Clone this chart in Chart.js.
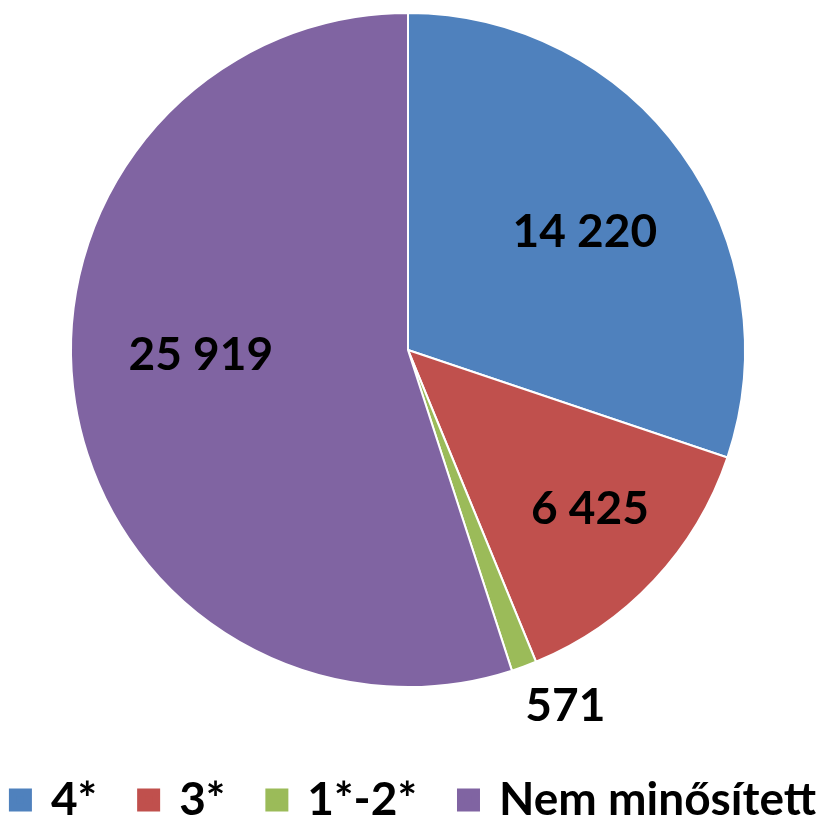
<!DOCTYPE html>
<html>
<head>
<meta charset="utf-8">
<script src="https://cdn.jsdelivr.net/npm/chart.js@4"></script>
<style>
  html, body { margin: 0; padding: 0; background: #ffffff; }
  #wrap { width: 824px; height: 816px; position: relative; }
</style>
</head>
<body>
<div id="wrap"><canvas id="c" width="824" height="816"></canvas></div>
<script>
const categories = ['4*', '3*', '1*-2*', 'Nem minősített'];
const values = [14220, 6425, 571, 25919];
const valueLabels = ['14 220', '6 425', '571', '25 919'];
const colors = ['#4F81BD', '#C0504D', '#9BBB59', '#8064A2'];

// label placement style (radius factor of outer radius, angle shift in degrees)
const labelPlacement = [
  { f: 0.630, d: 2.1 },
  { f: 0.718, d: -1.9 },
  { f: 1.155, d: -3.7 },
  { f: 0.615, d: 7.5 }
];

const FONT = 'Lato, "Open Sans", "DejaVu Sans", sans-serif';

const sliceLabels = {
  id: 'sliceLabels',
  afterLayout(chart) {
    // nudge the plot area slightly left, as in the original
    chart.chartArea.left -= 4;
    chart.chartArea.right -= 4;
  },
  afterDatasetsDraw(chart) {
    const ctx = chart.ctx;
    const meta = chart.getDatasetMeta(0);
    ctx.save();
    ctx.font = 'bold 46px ' + FONT;
    ctx.fillStyle = '#000000';
    ctx.textAlign = 'center';
    ctx.textBaseline = 'middle';
    meta.data.forEach((arc, i) => {
      const p = arc.getProps(['x', 'y', 'startAngle', 'endAngle', 'outerRadius'], true);
      const a = (p.startAngle + p.endAngle) / 2 + labelPlacement[i].d * Math.PI / 180;
      const r = p.outerRadius * labelPlacement[i].f;
      ctx.fillText(valueLabels[i], p.x + r * Math.cos(a), p.y + r * Math.sin(a));
    });
    ctx.restore();
  }
};

new Chart(document.getElementById('c'), {
  type: 'pie',
  data: {
    labels: categories,
    datasets: [{
      data: values,
      backgroundColor: colors,
      borderColor: '#ffffff',
      borderWidth: 2
    }]
  },
  options: {
    responsive: false,
    animation: false,
    radius: 337,
    layout: { padding: { top: 0, bottom: -17, left: -55, right: -60 } },
    plugins: {
      tooltip: { enabled: false },
      legend: {
        position: 'bottom',
        title: {
          display: true,
          text: ' ',
          font: { size: 10, lineHeight: 1 },
          padding: { top: 23, bottom: 0 }
        },
        labels: {
          font: { family: FONT, size: 46, weight: 'bold' },
          color: '#000000',
          boxWidth: 15,
          boxHeight: 15,
          padding: 44,
          generateLabels(chart) {
            return categories.map((c, i) => ({
              text: c,
              fillStyle: colors[i],
              strokeStyle: colors[i],
              fontColor: '#000000',
              lineWidth: 8,
              hidden: false,
              index: i
            }));
          }
        }
      }
    }
  },
  plugins: [sliceLabels]
});
</script>
</body>
</html>
